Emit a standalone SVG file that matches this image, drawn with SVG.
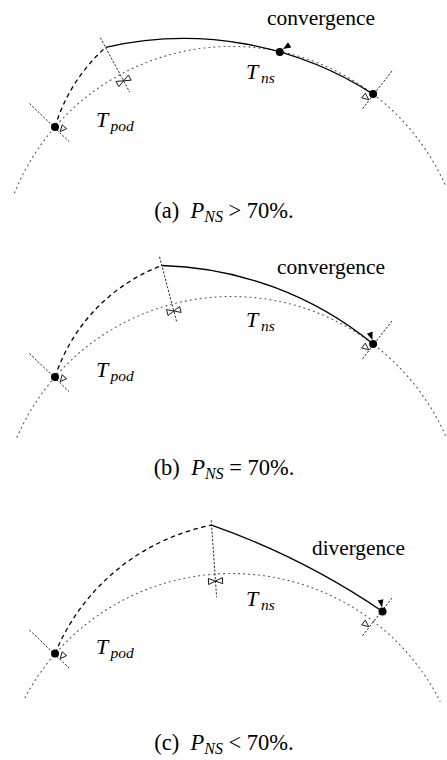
<svg xmlns="http://www.w3.org/2000/svg" width="447" height="760" viewBox="0 0 447 760">
<style>
.circ{fill:none;stroke:#555;stroke-width:1.1;stroke-dasharray:1 4;stroke-linecap:round}
.tick{fill:none;stroke:#000;stroke-width:0.85;stroke-dasharray:2.2 1.6}
.pod{fill:none;stroke:#000;stroke-width:1.3;stroke-dasharray:4.5 3.5}
.ns{fill:none;stroke:#000;stroke-width:1.3}
.dot{fill:#000}
.open{fill:#fff;stroke:#000;stroke-width:0.9}
.tip{fill:#000}
text{font-family:"Liberation Serif",serif;font-size:21px;fill:#000}
.lab{font-size:22px;font-style:italic}
.m{font-style:italic}
.sub{font-size:15.5px;font-style:italic}
.cap{font-size:22.5px}
.csub{font-size:16px;font-style:italic}
</style>
<rect width="447" height="760" fill="#fff"/>

<!-- Panel (a) -->
<g id="panel-a">
  <g id="a-connectors">
    <path class="circ" d="M14.6,192.8 A234,234 0 0 1 446.2,187.2"/>
    <line class="tick" x1="29.5" y1="103.5" x2="69" y2="141.5"/>
    <line class="tick" x1="100.3" y1="37.7" x2="129.8" y2="92.3"/>
    <line class="tick" x1="392" y1="71" x2="361.5" y2="110"/>
    <path class="pod" d="M55,127 A174,174 0 0 1 105.6,47.4"/>
    <path class="ns" d="M105.6,47.4 A350,350 0 0 1 373.1,94.1"/>
    <polygon class="open" points="60.3,131.6 62.1,124.8 66.6,128.6"/>
    <polygon class="open" points="123.6,80.8 116.0,81.4 118.8,86.6"/>
    <polygon class="open" points="123.6,80.8 128.4,75.0 131.2,80.2"/>
    <polygon class="open" points="368.8,99.7 365.3,93.2 361.7,97.9"/>
    <polygon class="tip" points="283,49 291.3,47.6 288,42.2"/>
  </g>
  <g id="a-start"><circle class="dot" cx="55" cy="127" r="4"/></g>
  <g id="a-conv"><circle class="dot" cx="279.8" cy="52" r="4"/></g>
  <g id="a-end"><circle class="dot" cx="373.1" cy="94.1" r="4"/></g>
  <g id="a-labels">
    <text x="267" y="24.5" textLength="108" lengthAdjust="spacingAndGlyphs">convergence</text>
    <text x="246" y="79" class="lab">T</text><text x="261" y="83" class="sub">ns</text>
    <text x="96" y="127" class="lab">T</text><text x="110.5" y="131" class="sub">pod</text>
    <text x="224" y="218" text-anchor="middle" class="cap">(a)&#160; <tspan class="m">P</tspan><tspan class="csub" dy="3.5">NS</tspan><tspan dy="-3.5"> &gt; 70%.</tspan></text>
  </g>
</g>

<!-- Panel (b) -->
<g id="panel-b">
  <g id="b-connectors">
    <path class="circ" d="M17,437.2 A234,234 0 0 1 446.2,437.2"/>
    <line class="tick" x1="29.5" y1="353.5" x2="69" y2="391.5"/>
    <line class="tick" x1="159.5" y1="256.8" x2="176.6" y2="321.6"/>
    <line class="tick" x1="392" y1="321" x2="361.5" y2="360"/>
    <path class="pod" d="M55,377 A179,179 0 0 1 161.8,265.5"/>
    <path class="ns" d="M161.8,265.5 A348,348 0 0 1 373.1,344.1"/>
    <polygon class="open" points="60.3,381.6 62.1,374.8 66.6,378.6"/>
    <polygon class="open" points="173.8,311 166.5,309.6 168.0,315.4"/>
    <polygon class="open" points="173.8,311 179.6,306.6 181.1,312.4"/>
    <polygon class="open" points="368.8,349.7 365.3,343.2 361.7,347.9"/>
    <polygon class="tip" points="372.5,340 372.6,331.6 366.9,333.8"/>
  </g>
  <g id="b-start"><circle class="dot" cx="55" cy="377" r="4"/></g>
  <g id="b-end"><circle class="dot" cx="373.1" cy="344.1" r="4"/></g>
  <g id="b-labels">
    <text x="277" y="274" textLength="108" lengthAdjust="spacingAndGlyphs">convergence</text>
    <text x="246" y="327" class="lab">T</text><text x="261" y="331" class="sub">ns</text>
    <text x="96" y="376.5" class="lab">T</text><text x="110.5" y="380.5" class="sub">pod</text>
    <text x="224" y="475" text-anchor="middle" class="cap">(b)&#160; <tspan class="m">P</tspan><tspan class="csub" dy="3.5">NS</tspan><tspan dy="-3.5"> = 70%.</tspan></text>
  </g>
</g>

<!-- Panel (c) -->
<g id="panel-c">
  <g id="c-connectors">
    <path class="circ" d="M25,697.6 A234,234 0 0 1 440.1,701.3"/>
    <line class="tick" x1="29.5" y1="630" x2="69" y2="668"/>
    <line class="tick" x1="211.2" y1="520.2" x2="216.6" y2="597"/>
    <line class="tick" x1="392" y1="598" x2="361.5" y2="637"/>
    <path class="pod" d="M55,653.5 A214,214 0 0 1 211.5,525.2"/>
    <path class="ns" d="M211.5,525.2 A736,736 0 0 1 382.5,611.5"/>
    <polygon class="open" points="60.3,658.6 62.1,651.8 66.6,655.6"/>
    <polygon class="open" points="215.5,581.1 208.3,578.5 208.7,584.5"/>
    <polygon class="open" points="215.5,581.1 222.3,577.7 222.7,583.7"/>
    <polygon class="open" points="368.8,626.7 365.3,620.2 361.7,624.9"/>
    <polygon class="tip" points="382,607.5 383.4,599.2 377.6,600.4"/>
  </g>
  <g id="c-start"><circle class="dot" cx="55" cy="653.5" r="4"/></g>
  <g id="c-end"><circle class="dot" cx="382.5" cy="611.5" r="4"/></g>
  <g id="c-labels">
    <text x="312" y="555" textLength="93" lengthAdjust="spacingAndGlyphs">divergence</text>
    <text x="246" y="606" class="lab">T</text><text x="261" y="610" class="sub">ns</text>
    <text x="96" y="654" class="lab">T</text><text x="110.5" y="658" class="sub">pod</text>
    <text x="224" y="750" text-anchor="middle" class="cap">(c)&#160; <tspan class="m">P</tspan><tspan class="csub" dy="3.5">NS</tspan><tspan dy="-3.5"> &lt; 70%.</tspan></text>
  </g>
</g>
</svg>
